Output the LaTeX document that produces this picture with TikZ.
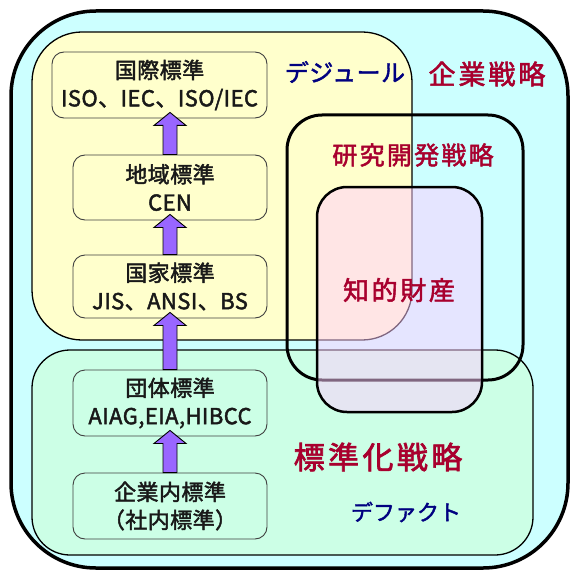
\documentclass[tikz,border=0pt]{standalone}
\usepackage{fontspec}
\newfontfamily\jp{Noto Sans CJK JP}
\usetikzlibrary{calc}
\definecolor{cyanbg}{HTML}{CCFFFF}
\definecolor{yellowbg}{HTML}{FFFFCC}
\definecolor{greenbg}{HTML}{CCFFE6}
\definecolor{ipbg}{HTML}{FFCCFF}
\definecolor{arrowc}{HTML}{9966FF}
\definecolor{redtext}{HTML}{A8002E}
\definecolor{navytext}{HTML}{000080}
\newcommand{\jpf}[3]{\jp\addfontfeatures{FakeBold=#2,LetterSpace=#3}\fontsize{#1}{#1}\selectfont}
\tikzset{
  region/.style={draw=black, line width=1.3pt},
  stdbox/.style={draw=black!75, line width=0.9pt, rounded corners=12pt, align=center,
    inner sep=0pt, font={\jpf{22}{2}{2}\baselineskip=28pt}, text=black!90},
  barrow/.style={draw=black, line width=0.9pt, fill=arrowc, line join=miter},
  redlabel/.style={text=redtext},
  navylabel/.style={text=navytext},
}
\newcommand{\blockarrow}[2]{%
  \draw[barrow] let \p1=(#1.north), \p2=(#2.south) in
    (\x1-7pt,\y1) -- (\x1-7pt,\y2-7pt) -- (\x1-16pt,\y2-7pt) -- (\x1,\y2+6pt)
    -- (\x1+16pt,\y2-7pt) -- (\x1+7pt,\y2-7pt) -- (\x1+7pt,\y1) -- cycle;}
\begin{document}
\begin{tikzpicture}[x=1pt,y=-1pt]
\useasboundingbox (0,0) rectangle (571,572);
% regions
\draw[line width=3.5pt, fill=cyanbg, rounded corners=85pt] (11,11) rectangle (568,568);
\draw[region, fill=yellowbg, rounded corners=50pt] (32,32) rectangle (412,340);
\draw[region, fill=greenbg, rounded corners=38pt] (32,350) rectangle (533,555);
\draw[line width=3pt, rounded corners=35pt] (287,115) rectangle (523,380);
\draw[line width=2.5pt, fill=ipbg, fill opacity=0.5, rounded corners=30pt] (317,187) rectangle (482,412);
% labels
\node[navylabel, font=\jpf{24}{1.8}{2}] (dejure) at (345,72) {デジュール};
\node[redlabel, font=\jpf{27}{2}{11}] (kigyo) at (487,74) {企業戦略};
\node[redlabel, font=\jpf{25}{2}{9}] (kenkyu) at (413,155) {研究開発戦略};
\node[redlabel, font=\jpf{26}{2}{10}] (chiteki) at (399,290) {知的財産};
\node[redlabel, font=\jpf{31}{2.2}{11}] (hyojunka) at (378,457) {標準化戦略};
\node[navylabel, font=\jpf{22}{1.8}{0}] (defacto) at (406,512) {デファクト};
% standards boxes
\node[stdbox, fill=yellowbg, minimum width=215pt, minimum height=66pt] (kokusai) at (159.5,85) {国際標準\\ISO、IEC、ISO/IEC};
\node[stdbox, fill=yellowbg, minimum width=194pt, minimum height=65pt] (chiiki) at (170,187.5) {地域標準\\CEN};
\node[stdbox, fill=yellowbg, minimum width=194pt, minimum height=63pt] (kokka) at (170,286.5) {国家標準\\JIS、ANSI、BS};
\node[stdbox, fill=greenbg, minimum width=194pt, minimum height=66pt] (dantai) at (170,403) {団体標準\\AIAG,EIA,HIBCC};
\node[stdbox, fill=greenbg, minimum width=194pt, minimum height=66pt] (shanai) at (170,506) {企業内標準\\（社内標準）};
% arrows
\blockarrow{chiiki}{kokusai}
\blockarrow{kokka}{chiiki}
\blockarrow{dantai}{kokka}
\blockarrow{shanai}{dantai}
\end{tikzpicture}
\end{document}
